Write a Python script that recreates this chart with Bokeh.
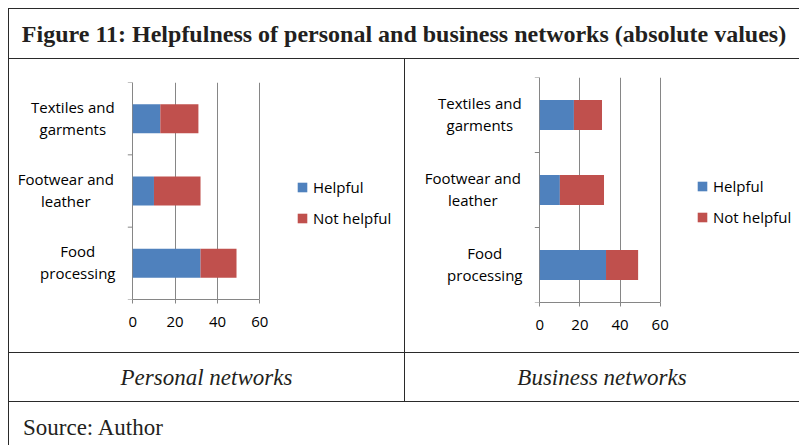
import math
from bokeh.plotting import figure
from bokeh.layouts import column, row
from bokeh.core.properties import value
from bokeh.models import (ColumnDataSource, FixedTicker, Legend, LegendItem, Div,
                          Spacer, Range1d, LabelSet)
from bokeh.embed import file_html
from bokeh.resources import INLINE

# ---------------- data ----------------
categories = ["Food processing", "Footwear and leather", "Textiles and garments"]
category_labels = ["Food\nprocessing", "Footwear and\nleather", "Textiles and\ngarments"]
series_names = ["Helpful", "Not helpful"]
personal_helpful = [32, 10, 13]
personal_not_helpful = [17, 22, 18]
business_helpful = [33, 10, 17]
business_not_helpful = [16, 22, 14]
x_ticks = [0, 20, 40, 60]
title_text = "Figure 11: Helpfulness of personal and business networks (absolute values)"
panel_titles = ["Personal networks", "Business networks"]
source_text = "Source: Author"

# ---------------- styles ----------------
COLORS = ["#4F81BD", "#C0504D"]
GRID = "#868686"
LINE = "#2a2a2a"
FONT = "Open Sans"
SERIF = "Liberation Serif"
W = 791
# horizontal offset (px, left of the value axis) of each category label's centre
LABEL_SHIFT = [-55, -67, -60]
LINE_OFFSETS = (12, -10)  # vertical offsets (px) of the two lines of a category label


def make_chart(helpful, not_helpful, canvas_w, axis_x, axis_w, top, plot_h, bottom,
               leg_x, leg_y):
    """axis_x: pixel of value 0 inside the canvas; axis_w: pixels from 0 to x_max."""
    x_max = x_ticks[-1]
    ppu = axis_w / x_max
    x_start = -axis_x / ppu
    x_end = (canvas_w - axis_x) / ppu
    n = len(categories)
    ypos = [i + 0.5 for i in range(n)]
    first = [s.split("\n")[0] for s in category_labels]
    second = [s.split("\n")[1] if "\n" in s else "" for s in category_labels]
    src = ColumnDataSource(dict(y=ypos, helpful=helpful, not_helpful=not_helpful,
                                cat=categories, first=first, second=second,
                                x0=[0] * n, shift=LABEL_SHIFT))
    p = figure(frame_width=canvas_w, frame_height=plot_h,
               min_border_left=0, min_border_right=0,
               min_border_top=top, min_border_bottom=bottom,
               x_range=Range1d(x_start, x_end), y_range=Range1d(0, n),
               y_axis_location=None,
               toolbar_location=None, output_backend="svg",
               outline_line_color=None, background_fill_color="white",
               border_fill_color="white", margin=0)
    rs = p.hbar_stack(["helpful", "not_helpful"], y="y", height=0.4,
                      color=COLORS, line_color=None, source=src)

    # x axis
    p.xaxis.ticker = FixedTicker(ticks=x_ticks, minor_ticks=[])
    p.xaxis.bounds = (x_ticks[0], x_ticks[-1])
    p.xaxis.axis_line_color = GRID
    p.xaxis.major_tick_line_color = GRID
    p.xaxis.major_tick_out = 4
    p.xaxis.major_tick_in = 0
    p.xaxis.minor_tick_line_color = None
    p.xaxis.major_label_standoff = 13
    p.xaxis.major_label_text_font = FONT
    p.xaxis.major_label_text_font_size = "15px"
    p.xaxis.major_label_text_color = "#000000"

    # vertical grid (the one at 0 doubles as the category axis line)
    p.xgrid.grid_line_color = GRID
    p.ygrid.grid_line_color = None

    # category boundary tick marks
    p.ray(x=[0] * (n + 1), y=list(range(n + 1)), length=5, length_units="screen",
          angle=math.pi, line_color=GRID, line_width=1)

    for col, dy in zip(("first", "second"), LINE_OFFSETS):
        labels = LabelSet(x="x0", y="y", text=col, x_offset="shift", y_offset=dy,
                          source=src, text_align="center", text_baseline="middle",
                          text_font=value(FONT), text_font_size=value("15px"),
                          text_color="#000000")
        p.add_layout(labels)

    legend = Legend(items=[LegendItem(label=nm, renderers=[r])
                           for nm, r in zip(series_names, rs)],
                    location=(leg_x, leg_y), orientation="vertical",
                    glyph_width=12, glyph_height=12, label_height=20,
                    spacing=11, padding=0, margin=0, label_standoff=5,
                    border_line_color=None, background_fill_alpha=0,
                    label_text_font=FONT, label_text_font_size="15px",
                    label_text_color="#000000")
    p.add_layout(legend)
    return p


def hline():
    return Spacer(width=W, height=1, margin=0, styles={"background-color": LINE})


def vline(h):
    return Spacer(width=1, height=h, margin=0, styles={"background-color": LINE})


def text_cell(txt, w, h, size, weight="normal", style="normal", justify="center",
              align="center", pad_left=0, pad_bottom=0):
    html = (f'<div style="width:{w}px;height:{h}px;display:flex;'
            f'align-items:{align};justify-content:{justify};box-sizing:border-box;'
            f'padding-left:{pad_left}px;padding-bottom:{pad_bottom}px;'
            f'font-family:\'{SERIF}\';font-size:{size}px;'
            f'font-weight:{weight};font-style:{style};color:#231f20;'
            f'line-height:1;white-space:nowrap;">{txt}</div>')
    return Div(text=html, width=w, height=h, margin=0)


p1 = make_chart(personal_helpful, personal_not_helpful,
                canvas_w=395, axis_x=123.3, axis_w=127, top=23, plot_h=217, bottom=53,
                leg_x=287, leg_y=71)
p2 = make_chart(business_helpful, business_not_helpful,
                canvas_w=394, axis_x=134.3, axis_w=120.4, top=18, plot_h=225, bottom=50,
                leg_x=291, leg_y=75)

title_row = row(vline(49), text_cell(title_text, W - 1, 49, 24, weight="bold"),
                spacing=0, margin=0)
chart_row = row(vline(293), column(p1, spacing=0, margin=0), vline(293),
                column(p2, spacing=0, margin=0), spacing=0, margin=0)
caption_row = row(vline(48), text_cell(panel_titles[0], 395, 48, 23, style="italic"),
                  vline(48), text_cell(panel_titles[1], 394, 48, 23, style="italic"),
                  spacing=0, margin=0)
source_row = row(vline(43), text_cell(source_text, W - 1, 43, 23, justify="flex-start",
                                      align="flex-end", pad_left=14, pad_bottom=6),
                 spacing=0, margin=0)

layout = column(hline(), title_row, hline(), chart_row, hline(), caption_row,
                hline(), source_row, spacing=0, margin=(8, 0, 0, 8))

open("out.html", "w").write(file_html(layout, INLINE))
